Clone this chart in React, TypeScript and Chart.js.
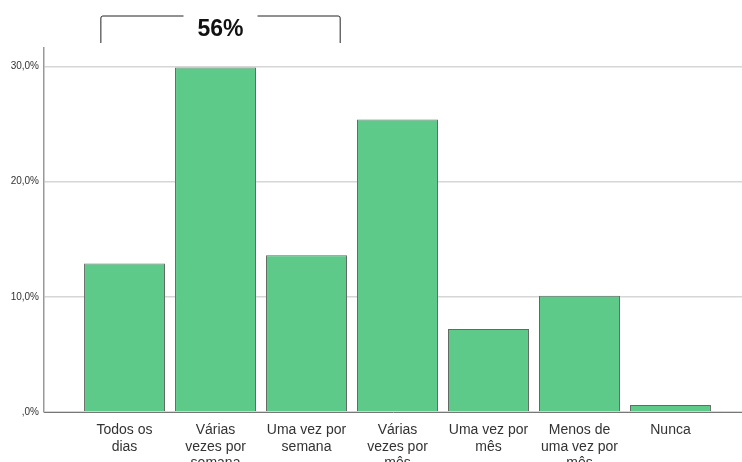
import React, { useEffect, useRef } from "react";
import { Chart, registerables } from "chart.js";

Chart.register(...registerables);

const categories: string[][] = [
  ["Todos os", "dias"],
  ["Várias", "vezes por", "semana"],
  ["Uma vez por", "semana"],
  ["Várias", "vezes por", "mês"],
  ["Uma vez por", "mês"],
  ["Menos de", "uma vez por", "mês"],
  ["Nunca"],
];
const percentages = [12.9, 29.9, 13.6, 25.4, 7.2, 10.1, 0.6];
const yTicks = [0, 10, 20, 30];
const bracketLabel = "56%";

const bracketPlugin = {
  id: "bracket",
  afterDraw(chart: any) {
    const ctx = chart.ctx;
    const x = chart.scales.x;
    const left = x.getPixelForValue(-0.26);
    const right = x.getPixelForValue(2.37);
    const mid = (left + right) / 2;
    const top = 16;
    const bottom = 43;
    ctx.save();
    ctx.strokeStyle = "#222";
    ctx.lineWidth = 1;
    ctx.font = "bold 23px 'Liberation Sans', Arial, sans-serif";
    const tw = ctx.measureText(bracketLabel).width;
    const gap = tw / 2 + 14;
    ctx.beginPath();
    ctx.moveTo(left, bottom);
    ctx.lineTo(left, top + 2);
    ctx.quadraticCurveTo(left, top, left + 2, top);
    ctx.lineTo(mid - gap, top);
    ctx.moveTo(mid + gap, top);
    ctx.lineTo(right - 2, top);
    ctx.quadraticCurveTo(right, top, right, top + 2);
    ctx.lineTo(right, bottom);
    ctx.stroke();
    ctx.fillStyle = "#111";
    ctx.textAlign = "center";
    ctx.textBaseline = "middle";
    ctx.fillText(bracketLabel, mid, 30);
    ctx.restore();
  },
};

export default function App() {
  const ref = useRef<HTMLCanvasElement>(null);
  useEffect(() => {
    document.body.style.margin = "0";
    const chart = new Chart(ref.current!, {
      type: "bar",
      data: {
        datasets: [
          {
            data: percentages.map((v, i) => ({ x: i, y: v })),
            backgroundColor: "#5ECA8A",
            borderColor: "#5f6b63",
            borderWidth: 1,
            barPercentage: 1,
            categoryPercentage: 0.89,
          },
        ],
      },
      options: {
        animation: false,
        responsive: false,
        layout: { padding: { top: 48, right: 0, left: 0, bottom: 0 } },
        plugins: { legend: { display: false }, tooltip: { enabled: false } },
        scales: {
          x: {
            type: "linear",
            offset: false,
            min: -0.885,
            max: 6.786,
            grid: { display: false },
            border: { display: true, color: "#777", width: 1 },
            afterBuildTicks: (s: any) => {
              s.ticks = categories.map((_, i) => ({ value: i }));
            },
            afterFit: (s: any) => {
              s.height = 50;
            },
            ticks: {
              autoSkip: false,
              maxRotation: 0,
              padding: 2,
              color: "#333",
              font: { family: "'Liberation Sans', Arial, sans-serif", size: 14, lineHeight: 1.18 },
              callback: (v: any) => categories[Math.round(v)] ?? "",
            },
          },
          y: {
            min: 0,
            max: 31.6,
            afterBuildTicks: (s: any) => {
              s.ticks = yTicks.map((v) => ({ value: v }));
            },
            afterFit: (s: any) => {
              s.width = 44;
            },
            grid: { color: "#d6d6d6", lineWidth: 1.5, drawTicks: false },
            border: { display: true, color: "#999", width: 1.5 },
            ticks: {
              padding: 5,
              color: "#333",
              font: { family: "'Liberation Sans', Arial, sans-serif", size: 10 },
              callback: (v: any) => (v === 0 ? ",0%" : v.toFixed(1).replace(".", ",") + "%"),
            },
          },
        },
      },
      plugins: [bracketPlugin],
    } as any);
    return () => chart.destroy();
  }, []);
  return <canvas ref={ref} width={742} height={462} style={{ display: "block" }} />;
}
